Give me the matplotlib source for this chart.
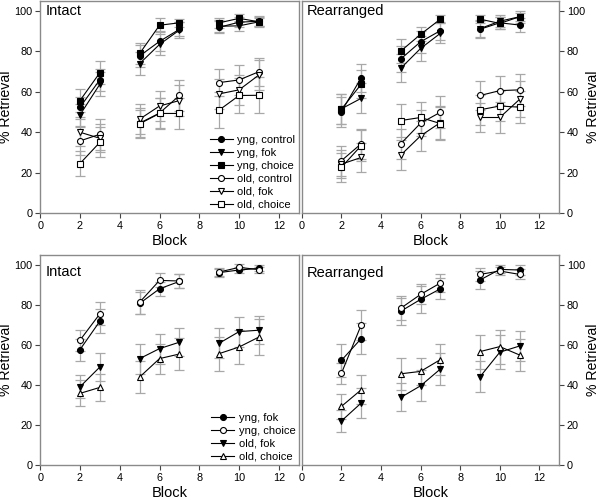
import numpy as np
import matplotlib
matplotlib.use("Agg")
import matplotlib.pyplot as plt

plt.rcParams['font.family'] = ['Liberation Sans', 'DejaVu Sans']

blocks = [2, 3, 5, 6, 7, 9, 10, 11]

# top row: Intact / Rearranged, six conditions
top_labels = ['yng, control', 'yng, fok', 'yng, choice',
              'old, control', 'old, fok', 'old, choice']
top_markers = ['o', 'v', 's', 'o', 'v', 's']
top_filled = [True, True, True, False, False, False]

tl_yng_control = [52.4, 66.0, 77.8, 85.0, 91.0, 92.0, 94.5, 95.0]
tl_yng_fok = [48.6, 63.8, 74.0, 83.5, 90.6, 92.5, 92.7, 94.7]
tl_yng_choice = [55.7, 69.5, 79.0, 93.0, 94.2, 94.2, 96.4, 94.7]
tl_old_control = [35.7, 39.0, 44.5, 49.5, 58.2, 64.6, 65.9, 70.0]
tl_old_fok = [40.0, 37.0, 46.5, 53.0, 55.7, 59.0, 61.0, 68.4]
tl_old_choice = [24.5, 35.0, 44.2, 49.3, 49.3, 51.0, 58.2, 58.3]

tl_err_yng_control = [5.0, 5.5, 5.5, 5.0, 3.5, 3.0, 2.5, 2.5]
tl_err_yng_fok = [5.5, 6.0, 5.6, 5.2, 3.8, 3.0, 2.5, 2.5]
tl_err_yng_choice = [5.6, 5.8, 5.3, 3.4, 2.0, 2.5, 2.0, 2.0]
tl_err_old_control = [7.0, 7.6, 7.5, 7.5, 7.7, 6.6, 7.4, 7.0]
tl_err_old_fok = [6.8, 7.0, 7.5, 7.6, 7.5, 7.5, 7.5, 7.5]
tl_err_old_choice = [6.0, 7.5, 6.8, 7.6, 7.6, 8.7, 8.8, 9.0]

tr_yng_control = [50.2, 67.0, 76.3, 84.8, 90.3, 91.0, 94.2, 93.1]
tr_yng_fok = [51.6, 56.8, 71.7, 81.5, 89.0, 91.3, 95.0, 97.2]
tr_yng_choice = [51.4, 63.8, 80.2, 88.5, 96.0, 96.0, 93.9, 97.2]
tr_old_control = [25.9, 34.3, 34.3, 44.5, 49.9, 58.2, 60.6, 61.0]
tr_old_fok = [24.2, 27.5, 28.7, 38.2, 44.8, 47.3, 47.3, 56.3]
tr_old_choice = [22.6, 33.4, 45.8, 47.3, 44.3, 51.1, 53.0, 52.4]

tr_err_yng_control = [7.4, 7.0, 6.5, 5.5, 4.5, 4.0, 3.0, 3.5]
tr_err_yng_fok = [7.5, 7.4, 7.0, 6.0, 5.0, 4.5, 3.0, 3.0]
tr_err_yng_choice = [7.4, 7.0, 6.0, 3.5, 2.0, 2.0, 3.0, 2.0]
tr_err_old_control = [7.4, 7.4, 7.5, 6.5, 8.0, 7.2, 7.3, 8.0]
tr_err_old_fok = [7.0, 7.4, 7.3, 7.5, 8.0, 7.4, 7.8, 9.0]
tr_err_old_choice = [7.0, 7.5, 8.0, 7.5, 8.0, 7.5, 7.5, 8.0]

# bottom row: four conditions
bot_labels = ['yng, fok', 'yng, choice', 'old, fok', 'old, choice']
bot_markers = ['o', 'o', 'v', '^']
bot_filled = [True, False, True, False]

bl_yng_fok = [57.7, 71.9, 80.8, 88.1, 91.8, 96.2, 97.5, 98.3]
bl_yng_choice = [62.4, 75.6, 81.4, 92.3, 92.0, 96.5, 98.8, 97.7]
bl_old_fok = [39.1, 49.0, 53.2, 58.2, 61.4, 60.9, 66.7, 67.4]
bl_old_choice = [35.8, 38.8, 44.0, 53.2, 55.5, 55.7, 59.0, 64.0]

bl_err_yng_fok = [5.5, 6.0, 5.5, 3.5, 3.5, 2.0, 1.5, 1.5]
bl_err_yng_choice = [5.2, 5.8, 6.0, 3.5, 3.5, 2.0, 1.5, 1.5]
bl_err_old_fok = [5.7, 7.0, 7.5, 7.5, 7.0, 7.5, 7.5, 7.0]
bl_err_old_choice = [6.5, 6.7, 8.0, 7.5, 8.0, 8.5, 8.5, 9.0]

br_yng_fok = [52.3, 63.2, 76.9, 82.8, 88.1, 92.5, 97.8, 97.5]
br_yng_choice = [45.8, 70.0, 78.4, 85.3, 91.0, 95.3, 97.0, 95.3]
br_old_fok = [22.0, 31.0, 33.8, 39.6, 48.0, 44.1, 56.4, 59.5]
br_old_choice = [29.3, 37.6, 45.6, 46.8, 52.7, 56.7, 59.2, 55.0]

br_err_yng_fok = [8.4, 7.7, 6.7, 6.8, 5.3, 4.7, 2.0, 2.5]
br_err_yng_choice = [5.3, 7.3, 6.0, 5.0, 4.3, 3.4, 2.0, 2.5]
br_err_old_fok = [5.3, 7.3, 7.0, 7.8, 7.9, 7.8, 8.4, 7.7]
br_err_old_choice = [6.3, 7.2, 8.0, 6.7, 7.8, 8.5, 8.5, 8.2]

FRAME = '#8a8a8a'
ERR = '#a8a8a8'


def draw_panel(ax, title, series, errors, labels, markers, filled,
               right_axis=False, title_dy=0.0, legend=False):
    x = np.array(blocks, dtype=float)
    # break lines between block groups (gaps in block numbers)
    cuts = np.where(np.diff(x) > 1)[0] + 1
    for y, e in zip(series, errors):
        ax.errorbar(x, y, yerr=e, fmt='none', ecolor=ERR, elinewidth=0.9,
                    capsize=3.4, capthick=0.9, zorder=1)
    for y, lab, m, f in zip(series, labels, markers, filled):
        y = np.array(y)
        first = True
        for xs, ys in zip(np.split(x, cuts), np.split(y, cuts)):
            ax.plot(xs, ys, color='black', lw=0.8, marker=m, ms=4.3,
                    mfc='black' if f else 'white', mec='black', mew=0.8,
                    label=lab if first else None, zorder=3)
            first = False

    ax.set_xlim(0, 13)
    ax.set_ylim(0, 105)
    ax.set_xticks(range(0, 13, 2))
    ax.set_yticks(range(0, 101, 20))
    ax.tick_params(direction='out', length=3.5, width=0.8, color='#444444',
                   labelsize=7.8, pad=2)
    for s in ax.spines.values():
        s.set_color(FRAME)
        s.set_linewidth(1.0)
    ax.set_xlabel('Block', fontsize=10.5, labelpad=2.5)
    if right_axis:
        ax.yaxis.tick_right()
        ax.yaxis.set_label_position('right')
    ax.set_ylabel('% Retrieval', fontsize=10.2, labelpad=1)
    ax.text(0.02, 0.985 - title_dy, title,
            transform=ax.transAxes, ha='left', va='top', fontsize=10.5)
    if legend:
        ax.legend(loc='lower right', frameon=False, fontsize=8,
                  handlelength=2.1, handletextpad=0.4, labelspacing=0.27,
                  borderaxespad=0.1, borderpad=0.2)


fig = plt.figure(figsize=(6, 5), dpi=100)
ax_tl = fig.add_axes([0.067, 0.574, 0.431, 0.424])
ax_tr = fig.add_axes([0.503, 0.574, 0.429, 0.424])
ax_bl = fig.add_axes([0.067, 0.070, 0.431, 0.420])
ax_br = fig.add_axes([0.503, 0.070, 0.429, 0.420])

draw_panel(ax_tl, 'Intact',
           [tl_yng_control, tl_yng_fok, tl_yng_choice,
            tl_old_control, tl_old_fok, tl_old_choice],
           [tl_err_yng_control, tl_err_yng_fok, tl_err_yng_choice,
            tl_err_old_control, tl_err_old_fok, tl_err_old_choice],
           top_labels, top_markers, top_filled, legend=True)
draw_panel(ax_tr, 'Rearranged',
           [tr_yng_control, tr_yng_fok, tr_yng_choice,
            tr_old_control, tr_old_fok, tr_old_choice],
           [tr_err_yng_control, tr_err_yng_fok, tr_err_yng_choice,
            tr_err_old_control, tr_err_old_fok, tr_err_old_choice],
           top_labels, top_markers, top_filled, right_axis=True)
draw_panel(ax_bl, 'Intact',
           [bl_yng_fok, bl_yng_choice, bl_old_fok, bl_old_choice],
           [bl_err_yng_fok, bl_err_yng_choice, bl_err_old_fok, bl_err_old_choice],
           bot_labels, bot_markers, bot_filled, title_dy=0.035, legend=True)
draw_panel(ax_br, 'Rearranged',
           [br_yng_fok, br_yng_choice, br_old_fok, br_old_choice],
           [br_err_yng_fok, br_err_yng_choice, br_err_old_fok, br_err_old_choice],
           bot_labels, bot_markers, bot_filled, right_axis=True, title_dy=0.035)

fig.savefig('out.png', dpi=100)
